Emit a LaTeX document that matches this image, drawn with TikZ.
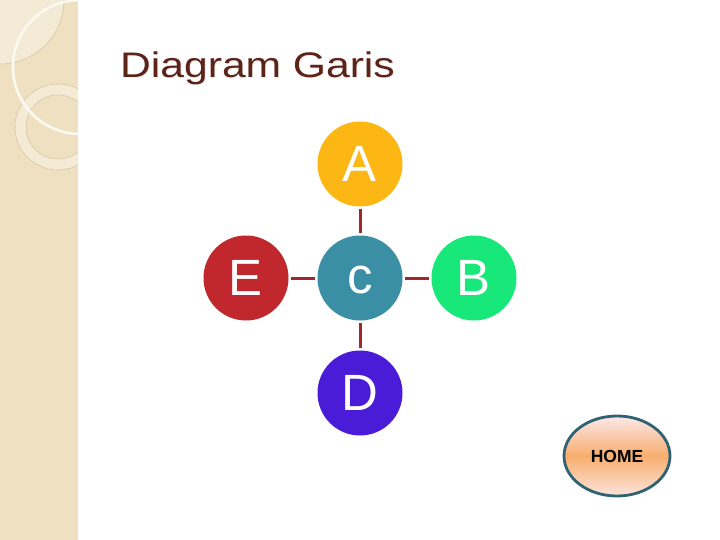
\documentclass[tikz,border=0pt]{standalone}
\usepackage{fontspec}
\setmainfont{Liberation Sans}
\usetikzlibrary{shapes.geometric}
\definecolor{panel}{HTML}{EFE0C1}
\definecolor{panellight}{HTML}{F4EBD7}
\definecolor{ringline}{HTML}{D9C79E}
\definecolor{titlecol}{HTML}{5C2318}
\definecolor{cA}{HTML}{FCB714}
\definecolor{cE}{HTML}{C0282D}
\definecolor{cC}{HTML}{3A8FA5}
\definecolor{cB}{HTML}{18E87A}
\definecolor{cD}{HTML}{4A1CD8}
\definecolor{linkcol}{HTML}{A0282A}
\definecolor{homeedge}{HTML}{2F6272}
\definecolor{homemid}{HTML}{F8AE6E}
\definecolor{hometop}{HTML}{FBE8EA}
\definecolor{homebot}{HTML}{FCE4DC}
\tikzset{
  bubble/.style={circle, minimum size=85pt, inner sep=0pt, text=white,
    font=\fontsize{51}{51}\selectfont},
  link/.style={draw=linkcol, line width=3pt, shorten >=2.5pt, shorten <=2.5pt},
  homebtn/.style={ellipse, minimum width=106pt, minimum height=80pt, inner sep=0pt,
    draw=homeedge, line width=2.8pt, top color=hometop, bottom color=homebot,
    middle color=homemid, font=\fontsize{17.5}{17.5}\selectfont\bfseries},
  titletext/.style={anchor=base west, inner sep=0pt, xscale=1.2,
    font=\fontsize{35.5}{35.5}\selectfont}
}
\begin{document}
\begin{tikzpicture}[x=1pt,y=-1pt]
\useasboundingbox (0,0) rectangle (720,540);
\fill[white] (0,0) rectangle (720,540);
% left decorative panel
\fill[panel] (0,0) rectangle (78,540);
\begin{scope}
  \clip (0,0) rectangle (78,540);
  \fill[panellight] (0,0) circle (64);
  \draw[ringline, line width=0.6pt] (0,0) circle (64);
  \fill[panellight, even odd rule] (58,127) circle (43) (58,127) circle (32);
  \draw[ringline, line width=0.6pt] (58,127) circle (43);
  \draw[ringline, line width=0.6pt] (58,127) circle (32);
  \draw[white!80!panel, line width=2.6pt] (80,67) circle (67);
\end{scope}
% title
\node[titletext, text=black!7] (titleshadow) at (121,79) {Diagram Garis};
\node[titletext, text=titlecol] (title) at (120,78) {Diagram Garis};
% diagram
\node[bubble, fill=cA] (A) at (360,164) {A};
\node[bubble, fill=cC, text depth=0pt, text height=31pt] (C) at (360,278) {c};
\node[bubble, fill=cE] (E) at (246,278) {E};
\node[bubble, fill=cB] (B) at (474,278) {B};
\node[bubble, fill=cD] (D) at (360,393) {D};
\draw[link] (A) -- (C);
\draw[link] (C) -- (D);
\draw[link] (E) -- (C);
\draw[link] (C) -- (B);
% home button
\node[homebtn] (home) at (617,456) {HOME};
\end{tikzpicture}
\end{document}
